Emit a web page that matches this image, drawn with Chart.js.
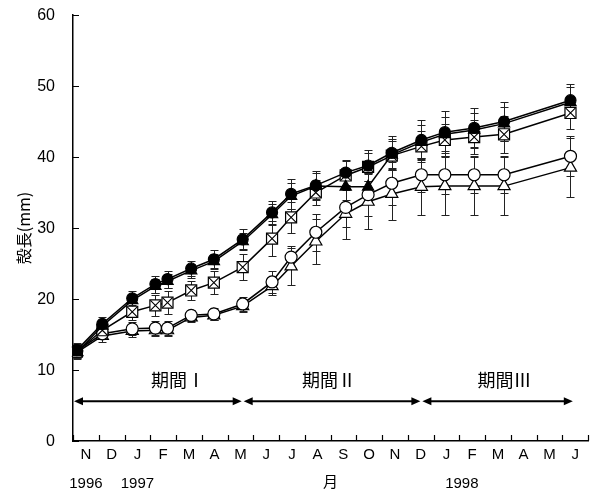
<!DOCTYPE html>
<html>
<head>
<meta charset="utf-8">
<script src="https://cdn.jsdelivr.net/npm/chart.js@4.4.1/dist/chart.umd.min.js"></script>
<style>
  html, body { margin: 0; padding: 0; background: #fff; }
  #wrap { width: 597px; height: 490px; }
</style>
</head>
<body>
<div id="wrap"><canvas id="shellChart" width="597" height="490"></canvas></div>
<script>
// month labels on the x axis (Nov 1996 .. Jun 1998)
const months = ['N','D','J','F','M','A','M','J','J','A','S','O','N','D','J','F','M','A','M','J'];
const years = ['1996', '1997', '1998'];
const yearAt = [0.5, 2.5, 15.1];

// sampling dates, in months from 1 Nov 1996
const sampleMonths = [0.15, 1.14, 2.30, 3.20, 3.67, 4.59, 5.47, 6.59, 7.73, 8.47,
  9.43, 10.59, 11.46, 12.38, 13.53, 14.44, 15.58, 16.74, 19.32];

// mean shell length (mm)
const filledCircle = [12.8, 16.5, 20.1, 22.1, 22.8, 24.3, 25.6, 28.4, 32.2, 34.8,
  36.0, 37.8, 38.8, 40.6, 42.4, 43.5, 44.1, 45.0, 48.0];
const filledTriangle = [12.5, 16.2, 19.8, 21.8, 22.5, 24.0, 25.3, 28.1, 31.9, 34.5,
  35.9, 35.8, 35.8, 40.3, 42.1, 43.2, 43.8, 44.7, 47.7];
const crossSquare = [12.6, 15.6, 18.2, 19.1, 19.5, 21.2, 22.3, 24.5, 28.5, 31.5,
  35.0, 37.4, 38.6, 40.2, 41.5, 42.4, 42.8, 43.2, 46.2];
const openCircle = [12.7, 15.1, 15.8, 15.9, 15.9, 17.7, 17.9, 19.3, 22.4, 25.9,
  29.4, 32.9, 34.7, 36.3, 37.5, 37.5, 37.5, 37.5, 40.1];
const openTriangle = [12.5, 14.8, 15.5, 15.6, 15.6, 17.4, 17.7, 19.0, 21.8, 24.6,
  28.1, 32.0, 33.7, 34.8, 35.8, 35.9, 35.9, 35.9, 38.5];

// standard deviations
const sdFilledCircle = [1.0, 0.9, 1.0, 1.2, 1.2, 1.1, 1.3, 1.4, 1.6, 2.1,
  2.0, 1.8, 2.2, 2.3, 2.8, 3.0, 2.8, 2.8, 2.3];
const sdFilledTriangle = [0.8, 0.8, 0.9, 1.0, 1.0, 1.0, 1.1, 1.2, 1.5, 1.8,
  1.8, 1.9, 2.0, 2.2, 2.4, 2.4, 2.4, 2.4, 2.1];
const sdCrossSquare = [1.0, 1.1, 1.2, 1.5, 1.6, 1.3, 1.6, 1.8, 2.5, 2.2,
  1.8, 2.0, 2.0, 2.1, 2.2, 2.2, 2.4, 2.6, 2.3];
const sdOpenCircle = [0.9, 0.8, 0.9, 1.0, 1.0, 0.8, 0.9, 1.0, 1.5, 1.6,
  2.6, 2.8, 3.0, 3.0, 2.4, 2.7, 2.6, 2.6, 2.8];
const sdOpenTriangle = [0.8, 0.9, 0.8, 0.8, 0.8, 0.7, 0.7, 0.9, 1.2, 2.6,
  3.2, 3.5, 3.9, 3.7, 4.0, 4.1, 4.1, 4.1, 4.2];

// periods shown with arrows
const periodNames = ['期間Ⅰ', '期間Ⅱ', '期間Ⅲ'];
const periodStart = [0, 6.59, 13.53];
const periodEnd = [6.59, 13.53, 19.45];
const periodLabelAt = [4.08, 9.94, 16.76];
const arrowLevel = 5.6;
const periodLabelLevel = 8.6;

const yTicks = [0, 10, 20, 30, 40, 50, 60];

const numFont = '"Liberation Sans", Arial, sans-serif';
const jpFont = '"Noto Sans CJK JP", "Liberation Sans", sans-serif';

const CROSS_INDEX = 2;

const toPoints = (ys) => ys.map((y, i) => ({ x: sampleMonths[i], y: y }));

function series(values, sd, style, fill, radius) {
  return {
    data: toPoints(values),
    sd: sd,
    borderColor: '#000',
    borderWidth: 1.5,
    pointStyle: style,
    pointBackgroundColor: fill,
    pointBorderColor: '#000',
    pointBorderWidth: 1.2,
    pointRadius: radius,
    tension: 0
  };
}

const errorBars = {
  id: 'errorBars',
  beforeDatasetsDraw(chart) {
    const ctx = chart.ctx;
    const y = chart.scales.y;
    ctx.save();
    ctx.strokeStyle = '#222';
    ctx.lineWidth = 1;
    chart.data.datasets.forEach((ds, di) => {
      const meta = chart.getDatasetMeta(di);
      meta.data.forEach((pt, i) => {
        const v = ds.data[i].y, s = ds.sd[i];
        const top = Math.round(y.getPixelForValue(v + s)) + 0.5;
        const bot = Math.round(y.getPixelForValue(v - s)) + 0.5;
        const x = Math.round(pt.x) + 0.5;
        ctx.beginPath();
        ctx.moveTo(x, top); ctx.lineTo(x, bot);
        ctx.moveTo(x - 4, top); ctx.lineTo(x + 4, top);
        ctx.moveTo(x - 4, bot); ctx.lineTo(x + 4, bot);
        ctx.stroke();
      });
    });
    ctx.restore();
  },
  // the X inside the square markers, drawn right after that dataset
  afterDatasetDraw(chart, args) {
    if (args.index !== CROSS_INDEX) return;
    const ctx = chart.ctx;
    ctx.save();
    ctx.strokeStyle = '#000';
    ctx.lineWidth = 1.1;
    args.meta.data.forEach(pt => {
      const h = 5;
      ctx.beginPath();
      ctx.moveTo(pt.x - h, pt.y - h); ctx.lineTo(pt.x + h, pt.y + h);
      ctx.moveTo(pt.x + h, pt.y - h); ctx.lineTo(pt.x - h, pt.y + h);
      ctx.stroke();
    });
    ctx.restore();
  }
};

function arrowHead(ctx, x, y, dir) {
  ctx.beginPath();
  ctx.moveTo(x, y);
  ctx.lineTo(x - dir * 9, y - 4);
  ctx.lineTo(x - dir * 9, y + 4);
  ctx.closePath();
  ctx.fill();
}

const annotations = {
  id: 'annotations',
  afterDraw(chart) {
    const ctx = chart.ctx;
    const xs = chart.scales.x, ys = chart.scales.y;
    const area = chart.chartArea;
    ctx.save();
    ctx.strokeStyle = '#000';
    ctx.fillStyle = '#000';
    ctx.lineWidth = 1.2;
    // inward tick marks
    ctx.beginPath();
    yTicks.forEach(t => {
      const py = Math.round(ys.getPixelForValue(t)) + 0.5;
      ctx.moveTo(area.left, py); ctx.lineTo(area.left + 6, py);
    });
    for (let m = 0; m <= months.length; m++) {
      const px = Math.round(xs.getPixelForValue(m)) + 0.5;
      ctx.moveTo(px, area.bottom); ctx.lineTo(px, area.bottom - 6);
    }
    ctx.stroke();

    // y tick labels
    ctx.font = '16px ' + numFont;
    ctx.textAlign = 'right';
    ctx.textBaseline = 'middle';
    yTicks.forEach(t => {
      ctx.fillText(String(t), area.left - 18, ys.getPixelForValue(t) + 1);
    });

    // period arrows
    ctx.lineWidth = 1.8;
    const ay = ys.getPixelForValue(arrowLevel);
    const ly = ys.getPixelForValue(periodLabelLevel);
    ctx.font = '18px ' + jpFont;
    ctx.textAlign = 'center';
    periodNames.forEach((name, i) => {
      const x0 = xs.getPixelForValue(periodStart[i]) + 1;
      const x1 = xs.getPixelForValue(periodEnd[i]) - 1;
      ctx.beginPath();
      ctx.moveTo(x0 + 4, ay); ctx.lineTo(x1 - 4, ay);
      ctx.stroke();
      arrowHead(ctx, x0, ay, -1);
      arrowHead(ctx, x1, ay, 1);
      ctx.fillText(name, xs.getPixelForValue(periodLabelAt[i]), ly);
    });

    // year labels under the months
    ctx.font = '15px ' + numFont;
    years.forEach((yr, i) => {
      ctx.fillText(yr, xs.getPixelForValue(yearAt[i]), 484);
    });
    ctx.restore();
  }
};

const ctx = document.getElementById('shellChart').getContext('2d');
new Chart(ctx, {
  type: 'line',
  data: {
    datasets: [
      series(filledCircle, sdFilledCircle, 'circle', '#000', 5.5),
      series(filledTriangle, sdFilledTriangle, 'triangle', '#000', 6.5),
      series(crossSquare, sdCrossSquare, 'rect', '#fff', 7.8),
      series(openCircle, sdOpenCircle, 'circle', '#fff', 6),
      series(openTriangle, sdOpenTriangle, 'triangle', '#fff', 7)
    ]
  },
  options: {
    responsive: false,
    animation: false,
    layout: { padding: { left: 0, right: 6, top: 15, bottom: 0 } },
    plugins: { legend: { display: false }, tooltip: { enabled: false } },
    scales: {
      x: {
        type: 'linear',
        min: 0,
        max: months.length,
        grid: { display: false, drawTicks: false },
        border: { display: true, color: '#000', width: 1.5 },
        afterBuildTicks: (scale) => {
          scale.ticks = months.map((m, i) => ({ value: i + 0.5 }));
        },
        afterFit: (scale) => { scale.height = 49; },
        ticks: {
          autoSkip: false,
          maxRotation: 0,
          padding: 5,
          color: '#000',
          font: { family: numFont, size: 15 },
          callback: (v) => months[Math.floor(v)]
        },
        title: {
          display: true,
          text: '月',
          color: '#000',
          padding: { top: 0, bottom: 0 },
          font: { family: jpFont, size: 15 }
        }
      },
      y: {
        min: 0,
        max: 60,
        grid: { display: false, drawTicks: false },
        border: { display: true, color: '#000', width: 1.5 },
        afterFit: (scale) => { scale.width = 73; },
        ticks: { display: false, stepSize: 10 },
        title: {
          display: true,
          text: '殻長(mm)',
          color: '#000',
          padding: { top: 14, bottom: 0 },
          font: { family: jpFont, size: 16 }
        }
      }
    }
  },
  plugins: [errorBars, annotations]
});
</script>
</body>
</html>
